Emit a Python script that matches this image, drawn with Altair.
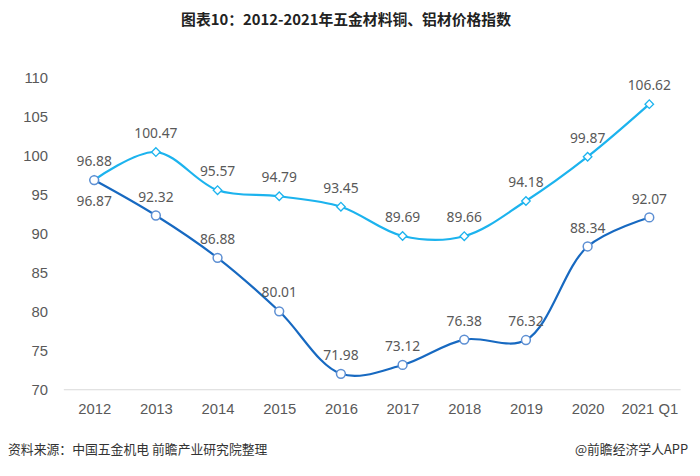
import altair as alt
import pandas as pd

years = ["2012", "2013", "2014", "2015", "2016", "2017", "2018", "2019", "2020", "2021 Q1"]
light_vals = [96.88, 100.47, 95.57, 94.79, 93.45, 89.69, 89.66, 94.18, 99.87, 106.62]
dark_vals = [96.87, 92.32, 86.88, 80.01, 71.98, 73.12, 76.38, 76.32, 88.34, 92.07]
series_names = ["铝材", "铜材"]
y_ticks = [70, 75, 80, 85, 90, 95, 100, 105, 110]
title_text = "图表10：2012-2021年五金材料铜、铝材价格指数"
source_text = "资料来源：中国五金机电 前瞻产业研究院整理"
brand_text = "@前瞻经济学人APP"

rows = []
for y, v in zip(years, light_vals):
    rows.append({"year": y, "value": v, "series": series_names[0], "label": f"{v:.2f}"})
for y, v in zip(years, dark_vals):
    rows.append({"year": y, "value": v, "series": series_names[1], "label": f"{v:.2f}"})
df = pd.DataFrame(rows)

LIGHT = "#1cb3ee"
DARK = "#1769c1"
GRAY = "#595959"

x_enc = alt.X("year:N", sort=years, scale=alt.Scale(type="point", padding=0.5),
              axis=alt.Axis(title=None, labelAngle=0, ticks=False, grid=False,
                            domainColor="#d9d9d9", labelColor=GRAY, labelFontSize=15,
                            labelFont="Liberation Sans", labelPadding=13))
y_enc = alt.Y("value:Q", scale=alt.Scale(domain=[70, 110], nice=False, zero=False),
              axis=alt.Axis(title=None, values=y_ticks, ticks=False,
                            domain=False, grid=False, labelColor=GRAY, labelFontSize=15,
                            labelFont="Liberation Sans", labelPadding=16, labelOverlap=False))

color_scale = alt.Scale(domain=series_names, range=[LIGHT, DARK])

base = alt.Chart(df).encode(x=x_enc, y=y_enc)

lines = base.mark_line(interpolate="catmull-rom", strokeWidth=2.2).encode(
    color=alt.Color("series:N", scale=color_scale, legend=None),
    detail="series:N",
)

light_pts = base.transform_filter(alt.datum.series == series_names[0]).mark_point(
    shape="diamond", size=75, filled=True, fill="white", stroke=LIGHT, strokeWidth=1.3, opacity=1
)

dark_pts = base.transform_filter(alt.datum.series == series_names[1]).mark_point(
    shape="circle", size=80, filled=True, fill="white", stroke="#5d8fd3", strokeWidth=1.5, opacity=1
)

label_font = dict(fontSize=14, color=GRAY, font="Noto Sans")

light_labels = base.transform_filter(alt.datum.series == series_names[0]).mark_text(
    dy=-18, **label_font
).encode(text="label:N")

dark_labels_up = base.transform_filter(
    (alt.datum.series == series_names[1]) & (alt.datum.year != years[0])
).mark_text(dy=-18, **label_font).encode(text="label:N")

dark_labels_down = base.transform_filter(
    (alt.datum.series == series_names[1]) & (alt.datum.year == years[0])
).mark_text(dy=22, **label_font).encode(text="label:N")

title = alt.Chart(pd.DataFrame({"t": [title_text]})).mark_text(
    fontSize=15, fontWeight="bold", font="Noto Sans CJK SC", color="#222222", align="center"
).encode(x=alt.value(286), y=alt.value(-58), text="t:N")

source = alt.Chart(pd.DataFrame({"t": [source_text]})).mark_text(
    fontSize=13, font="Noto Sans CJK SC", color="#333333", align="left"
).encode(x=alt.value(-56), y=alt.value(377), text="t:N")

brand = alt.Chart(pd.DataFrame({"t": [brand_text]})).mark_text(
    fontSize=13, font="Noto Sans CJK SC", color="#333333", align="right"
).encode(x=alt.value(632), y=alt.value(377), text="t:N")

chart = alt.layer(
    lines, light_pts, dark_pts, light_labels, dark_labels_up, dark_labels_down,
    title, source, brand
).properties(
    width=624, height=315,
    autosize=alt.AutoSizeParams(type="none"),
    padding={"left": 56, "top": 68, "right": 12, "bottom": 77},
    view=alt.ViewBackground(strokeOpacity=0, strokeWidth=0),
).configure_view(strokeWidth=0, strokeOpacity=0).configure(background="white")

chart.save("out.html", embed_options={"renderer": "svg", "actions": False})
